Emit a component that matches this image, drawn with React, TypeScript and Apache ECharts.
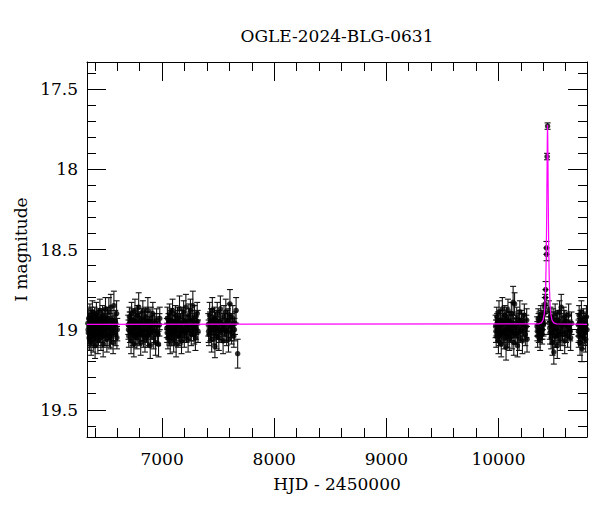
import React, { useEffect, useRef } from "react";
import * as echarts from "echarts";

// Observations: [HJD - 2450000, I mag, error]
const season2013 = [
  [6338,18.96,0.06],[6342,19.02,0.07],[6345,18.93,0.06],[6349,19.05,0.08],[6352,18.99,0.06],[6356,18.91,0.07],[6360,19.04,0.07],[6363,18.97,0.06],[6367,19.08,0.08],[6371,18.94,0.06],[6375,19.01,0.07],[6378,18.89,0.07],[6382,18.98,0.06],[6386,19.06,0.08],[6390,18.95,0.06],[6394,19.03,0.07],[6398,18.92,0.06],[6402,19.10,0.08],[6406,18.97,0.07],[6410,19.00,0.06],[6414,18.90,0.07],[6418,19.04,0.07],[6423,18.96,0.06],[6427,19.07,0.08],[6431,18.93,0.06],[6436,18.99,0.07],[6440,19.02,0.06],[6445,18.88,0.07],[6449,18.97,0.06],[6454,19.05,0.08],[6459,18.94,0.06],[6464,19.01,0.07],[6469,18.91,0.06],[6474,19.09,0.08],[6479,18.98,0.06],[6484,18.95,0.07],[6490,19.03,0.07],[6495,18.87,0.07],[6501,18.99,0.06],[6507,19.06,0.08],[6513,18.93,0.07],[6519,19.00,0.06],[6525,18.89,0.09],[6531,19.04,0.07],[6537,18.96,0.06],[6543,18.86,0.08],[6550,19.02,0.07],[6556,18.98,0.06],[6563,19.08,0.07],[6570,18.85,0.09],[6578,18.97,0.06],[6586,19.03,0.07],[6594,18.90,0.08],[6600,19.00,0.07],
  [6340,19.00,0.07],[6347,18.98,0.06],[6354,19.06,0.07],[6365,18.93,0.07],[6373,19.03,0.06],[6380,18.95,0.07],[6388,19.01,0.07],[6396,18.97,0.06],[6404,19.04,0.07],[6412,18.95,0.06],[6421,19.00,0.07],[6433,19.03,0.07],[6443,18.94,0.06],[6451,19.01,0.07],[6462,18.97,0.06],[6472,19.04,0.07],[6482,18.93,0.06],[6493,19.00,0.07],[6504,18.96,0.06],[6516,19.03,0.07],[6528,18.98,0.06],[6540,19.05,0.07],[6553,18.94,0.06],[6566,19.00,0.07],[6582,18.95,0.07],[6597,19.05,0.07],
];
const season2014 = [
  [6698,18.97,0.06],[6703,19.04,0.07],[6708,18.92,0.06],[6713,19.01,0.07],[6718,18.95,0.06],[6723,19.07,0.08],[6728,18.90,0.07],[6733,18.99,0.06],[6738,19.03,0.07],[6743,18.94,0.06],[6748,19.09,0.08],[6753,18.97,0.06],[6758,18.88,0.07],[6764,19.02,0.07],[6769,18.96,0.06],[6775,19.05,0.07],[6780,18.91,0.06],[6786,18.99,0.07],[6791,18.86,0.09],[6797,19.03,0.07],[6803,18.95,0.06],[6809,19.08,0.08],[6815,18.93,0.06],[6821,19.00,0.07],[6828,18.89,0.07],[6834,19.04,0.07],[6840,18.97,0.06],[6847,19.06,0.08],[6853,18.92,0.06],[6860,19.01,0.07],[6866,18.95,0.06],[6873,18.88,0.08],[6880,19.03,0.07],[6887,18.98,0.06],[6894,19.10,0.08],[6901,18.93,0.07],[6909,19.00,0.06],[6917,18.90,0.07],[6925,19.05,0.07],[6933,18.96,0.06],[6942,19.08,0.08],[6951,18.94,0.07],[6960,19.02,0.07],[6968,19.09,0.08],[6976,18.97,0.07],
  [6700,19.00,0.06],[6711,18.96,0.07],[6721,19.02,0.06],[6731,18.94,0.07],[6741,19.00,0.06],[6751,19.04,0.07],[6762,18.95,0.06],[6773,18.99,0.07],[6784,19.03,0.06],[6795,18.97,0.07],[6806,19.01,0.06],[6818,18.96,0.07],[6831,19.03,0.06],[6844,18.94,0.07],[6857,19.00,0.06],[6870,19.04,0.07],[6884,18.95,0.06],[6898,19.02,0.07],[6913,18.97,0.06],[6929,19.01,0.07],[6946,18.98,0.06],[6964,19.03,0.07],[6979,18.93,0.07],
];
const season2015 = [
  [7042,18.99,0.06],[7047,18.93,0.07],[7052,19.05,0.07],[7057,18.96,0.06],[7062,19.02,0.07],[7067,18.90,0.06],[7072,19.07,0.08],[7077,18.97,0.06],[7082,18.94,0.07],[7087,19.03,0.07],[7093,18.88,0.07],[7098,19.00,0.06],[7103,19.06,0.08],[7109,18.95,0.06],[7114,19.01,0.07],[7120,18.91,0.06],[7125,19.09,0.08],[7131,18.98,0.06],[7137,18.93,0.07],[7143,19.04,0.07],[7149,18.96,0.06],[7155,18.87,0.08],[7161,19.02,0.07],[7167,18.99,0.06],[7173,19.07,0.08],[7179,18.92,0.06],[7186,19.00,0.07],[7192,18.89,0.07],[7198,19.04,0.07],[7205,18.95,0.06],[7212,18.86,0.08],[7218,19.01,0.07],[7225,18.97,0.06],[7232,19.06,0.08],[7239,18.91,0.07],[7246,18.98,0.06],[7253,18.88,0.07],[7260,19.03,0.07],[7267,18.94,0.06],[7274,18.85,0.09],[7281,19.00,0.07],[7289,18.92,0.07],[7297,19.05,0.08],[7305,18.96,0.07],[7313,18.90,0.07],[7320,19.01,0.07],
  [7045,19.02,0.06],[7055,18.99,0.07],[7065,19.04,0.06],[7075,18.95,0.07],[7085,19.00,0.06],[7096,18.96,0.07],[7107,19.03,0.06],[7118,18.98,0.07],[7129,19.01,0.06],[7141,18.95,0.07],[7153,19.04,0.06],[7164,18.97,0.07],[7176,19.01,0.06],[7189,18.95,0.07],[7202,19.02,0.06],[7215,18.98,0.07],[7229,19.00,0.06],[7243,18.94,0.07],[7257,19.01,0.06],[7271,18.97,0.07],[7286,19.03,0.06],[7301,18.99,0.07],[7317,18.95,0.07],
];
const season2016 = [
  [7412,18.97,0.07],[7418,19.03,0.07],[7424,18.91,0.08],[7430,19.00,0.07],[7436,18.94,0.07],[7442,19.06,0.08],[7448,18.88,0.08],[7455,18.98,0.07],[7461,19.02,0.07],[7467,18.93,0.07],[7471,19.105,0.07],[7478,18.96,0.07],[7485,19.04,0.08],[7492,18.90,0.07],[7499,18.99,0.07],[7506,19.05,0.08],[7513,18.95,0.07],[7520,18.87,0.08],[7528,19.01,0.07],[7536,18.97,0.07],[7544,19.07,0.08],[7552,18.92,0.07],[7560,19.00,0.07],[7568,18.89,0.08],[7576,19.03,0.07],[7584,18.95,0.07],[7592,19.06,0.08],[7600,18.91,0.07],[7605,18.84,0.09],[7612,18.98,0.07],[7620,19.02,0.07],[7630,18.93,0.08],[7640,19.04,0.07],[7650,18.96,0.07],[7660,18.88,0.08],[7674,19.15,0.09],
  [7415,19.01,0.07],[7427,18.96,0.07],[7439,19.00,0.07],[7452,18.94,0.07],[7464,19.00,0.07],[7482,18.99,0.07],[7496,18.95,0.07],[7510,19.01,0.07],[7524,18.96,0.07],[7540,19.00,0.07],[7556,18.97,0.07],[7572,19.01,0.07],[7588,18.94,0.07],[7608,19.00,0.07],[7625,18.97,0.07],[7645,19.00,0.07],
];
const season2023 = [
  [9975,18.98,0.07],[9980,19.04,0.07],[9985,18.92,0.06],[9990,19.01,0.07],[9995,18.95,0.06],[10000,19.07,0.08],[10005,18.89,0.07],[10010,18.99,0.06],[10015,19.03,0.07],[10020,18.94,0.06],[10025,19.09,0.08],[10030,18.97,0.06],[10035,18.87,0.07],[10040,19.02,0.07],[10046,18.96,0.06],[10051,19.05,0.07],[10057,18.91,0.06],[10062,19.00,0.07],[10068,19.11,0.08],[10073,18.93,0.07],[10079,19.03,0.06],[10085,18.88,0.07],[10091,18.98,0.07],[10097,19.06,0.07],[10103,18.95,0.06],[10109,19.01,0.07],[10115,18.90,0.07],[10121,19.04,0.08],[10127,18.97,0.06],[10131,18.83,0.10],[10137,19.08,0.08],[10144,18.84,0.07],[10150,18.99,0.06],[10156,19.02,0.07],[10163,18.93,0.07],[10170,19.10,0.07],[10177,18.96,0.06],[10184,19.05,0.08],[10191,18.89,0.07],[10198,19.00,0.07],[10206,18.94,0.06],[10214,19.07,0.08],[10222,18.97,0.07],[10231,18.91,0.07],[10240,19.03,0.07],[10249,18.98,0.07],[10255,19.06,0.08],
  [9978,19.01,0.07],[9988,18.96,0.06],[9998,19.00,0.07],[10008,19.04,0.06],[10018,18.97,0.07],[10028,19.01,0.06],[10038,18.95,0.07],[10049,19.02,0.06],[10060,18.96,0.07],[10071,19.00,0.06],[10082,19.04,0.07],[10094,18.95,0.06],[10106,18.98,0.07],[10118,19.01,0.06],[10134,18.96,0.07],[10147,19.03,0.06],[10160,18.98,0.07],[10174,19.02,0.06],[10188,18.95,0.07],[10202,19.01,0.06],[10218,18.97,0.07],[10236,19.00,0.06],[10252,18.94,0.07],
];
const season2024 = [
  [10345,18.98,0.06],[10350,19.04,0.07],[10355,18.93,0.06],[10360,19.01,0.07],[10366,18.95,0.06],[10372,19.06,0.07],[10378,18.91,0.06],[10384,18.99,0.07],[10390,19.03,0.06],[10396,18.94,0.06],[10402,18.97,0.07],[10408,18.90,0.06],[10413,18.86,0.06],[10417,18.84,0.06],
  [10419,18.80,0.05],[10421,18.75,0.05],[10428,18.49,0.04],[10429,18.53,0.04],[10434,17.92,0.02],[10438.5,17.73,0.02],
  [10450,18.88,0.06],[10455,18.96,0.07],[10460,19.02,0.07],[10465,18.92,0.06],[10470,19.05,0.07],[10476,18.97,0.06],[10482,19.08,0.08],[10488,18.93,0.06],[10494,19.14,0.075],[10500,19.00,0.07],[10506,18.90,0.06],[10512,19.04,0.07],[10518,18.96,0.06],[10525,19.10,0.08],[10531,18.94,0.06],[10538,19.01,0.07],[10545,18.89,0.07],[10552,19.06,0.07],[10560,18.86,0.08],[10567,18.98,0.06],[10575,19.03,0.07],[10583,18.92,0.06],[10591,19.07,0.08],[10599,18.97,0.07],[10608,18.95,0.06],[10617,19.04,0.07],[10626,18.91,0.07],[10635,19.00,0.06],[10644,19.05,0.08],[10652,18.96,0.07],
  [10347,19.01,0.06],[10358,18.97,0.07],[10369,19.02,0.06],[10381,18.95,0.07],[10393,19.00,0.06],[10405,18.96,0.07],[10458,18.99,0.07],[10468,18.95,0.06],[10479,19.02,0.07],[10491,18.97,0.06],[10503,19.04,0.07],[10515,18.99,0.06],[10528,18.96,0.07],[10541,19.03,0.06],[10556,18.97,0.07],[10571,19.01,0.06],[10587,18.95,0.07],[10603,19.02,0.06],[10621,18.98,0.07],[10640,19.01,0.06],
];
const season2025 = [
  [10712,18.97,0.07],[10716,19.04,0.07],[10720,18.91,0.06],[10724,19.00,0.07],[10728,19.08,0.08],[10732,18.94,0.06],[10736,19.02,0.07],[10740,18.89,0.07],[10745,19.12,0.08],[10750,18.98,0.06],[10755,19.05,0.07],[10760,18.93,0.06],[10766,19.01,0.07],[10772,18.96,0.07],[10778,19.06,0.08],[10785,18.92,0.07],[10790,19.00,0.07],
  [10714,19.01,0.07],[10722,18.96,0.06],[10730,19.02,0.07],[10738,18.97,0.06],[10748,19.03,0.07],[10758,18.99,0.06],[10769,19.02,0.07],[10781,18.97,0.06],
];

// Model curve: [HJD - 2450000, I mag]
const modelCurve = [
  [6330,18.967],[10358,18.964],[10383,18.958],[10398,18.941],[10408,18.905],[10413,18.867],[10418,18.80],[10422,18.708],[10425,18.60],[10428,18.451],[10430,18.316],[10432,18.153],[10434,17.966],[10436,17.796],[10438,17.722],[10440,17.796],[10442,17.966],[10444,18.153],[10446,18.316],[10448,18.451],[10451,18.60],[10454,18.708],[10458,18.80],[10463,18.867],[10468,18.905],[10478,18.941],[10493,18.958],[10518,18.964],[10790,18.967],
];

const xMajorTicks = [7000, 8000, 9000, 10000];
const xMinorTicks = [6400,6600,6800,7200,7400,7600,7800,8200,8400,8600,8800,9200,9400,9600,9800,10200,10400,10600];
const yMajorTicks = [17.5, 18, 18.5, 19, 19.5];
const yMinorTicks = [17.4,17.6,17.7,17.8,17.9,18.1,18.2,18.3,18.4,18.6,18.7,18.8,18.9,19.1,19.2,19.3,19.4,19.6];

const X_MIN = 6330, X_MAX = 10790, Y_MIN = 17.33, Y_MAX = 19.67;
const FONT = "DejaVu Serif";

export default function App() {
  const ref = useRef<HTMLDivElement>(null);
  useEffect(() => {
    document.body.style.margin = "0";
    if (!ref.current) return;
    const chart = echarts.init(ref.current, undefined, { renderer: "svg" });
    const obs = [...season2013, ...season2014, ...season2015, ...season2016, ...season2023, ...season2024, ...season2025];

    const mkX = (pos: string, major: boolean, withLabel: boolean, name?: string) => ({
      type: "value", min: X_MIN, max: X_MAX, position: pos, gridIndex: 0,
      name, nameLocation: "middle", nameGap: 38,
      nameTextStyle: { fontFamily: FONT, fontSize: 17, color: "#000" },
      axisLine: { show: major, onZero: false, lineStyle: { color: "#000", width: 1 } },
      axisTick: { show: true, inside: true, length: major ? 19 : 9, customValues: major ? xMajorTicks : xMinorTicks, lineStyle: { color: "#000", width: 1 } },
      axisLabel: { show: withLabel, customValues: xMajorTicks, margin: 13, fontFamily: FONT, fontSize: 17, color: "#000", formatter: (v: number) => String(v) },
      splitLine: { show: false },
    });
    const mkY = (pos: string, major: boolean, withLabel: boolean, name?: string) => ({
      type: "value", min: Y_MIN, max: Y_MAX, inverse: true, position: pos, gridIndex: 0,
      name, nameLocation: "middle", nameGap: 57,
      nameTextStyle: { fontFamily: FONT, fontSize: 17, color: "#000" },
      axisLine: { show: major, onZero: false, lineStyle: { color: "#000", width: 1 } },
      axisTick: { show: true, inside: true, length: major ? 19 : 9, customValues: major ? yMajorTicks : yMinorTicks, lineStyle: { color: "#000", width: 1 } },
      axisLabel: { show: withLabel, customValues: yMajorTicks, margin: 9, fontFamily: FONT, fontSize: 17, color: "#000", formatter: (v: number) => String(v) },
      splitLine: { show: false },
    });

    chart.setOption({
      animation: false,
      backgroundColor: "#fff",
      grid: { left: 87, right: 13, top: 62, bottom: 75, containLabel: false },
      graphic: [{
        type: "text", x: 337, y: 36,
        style: { text: "OGLE-2024-BLG-0631", fill: "#000", font: `17px "${FONT}"`, align: "center", verticalAlign: "middle" },
      }],
      xAxis: [
        mkX("bottom", true, true, "HJD - 2450000"),
        mkX("bottom", false, false),
        mkX("top", true, false),
        mkX("top", false, false),
      ],
      yAxis: [
        mkY("left", true, true, "I magnitude"),
        mkY("left", false, false),
        mkY("right", true, false),
        mkY("right", false, false),
      ],
      series: [
        {
          type: "custom", xAxisIndex: 0, yAxisIndex: 0, clip: true, z: 1,
          data: obs,
          renderItem: (params: any, api: any) => {
            const x = api.value(0), y = api.value(1), e = api.value(2);
            const a = api.coord([x, y - e]);
            const b = api.coord([x, y + e]);
            const hw = 3;
            const st = { stroke: "#111", lineWidth: 1.1 };
            return {
              type: "group",
              children: [
                { type: "line", shape: { x1: a[0], y1: a[1], x2: b[0], y2: b[1] }, style: st },
                { type: "line", shape: { x1: a[0] - hw, y1: a[1], x2: a[0] + hw, y2: a[1] }, style: st },
                { type: "line", shape: { x1: b[0] - hw, y1: b[1], x2: b[0] + hw, y2: b[1] }, style: st },
              ],
            };
          },
        },
        {
          type: "scatter", xAxisIndex: 0, yAxisIndex: 0, z: 2, clip: true,
          symbol: "circle", symbolSize: 5.5,
          itemStyle: { color: "#000" },
          data: obs.map((d) => [d[0], d[1]]),
        },
        {
          type: "line", xAxisIndex: 0, yAxisIndex: 0, z: 3, clip: true,
          showSymbol: false, smooth: false,
          lineStyle: { color: "#ff00ff", width: 1.2 },
          data: modelCurve,
        },
      ],
    });
    return () => chart.dispose();
  }, []);
  return <div ref={ref} style={{ width: 600, height: 512 }} />;
}
